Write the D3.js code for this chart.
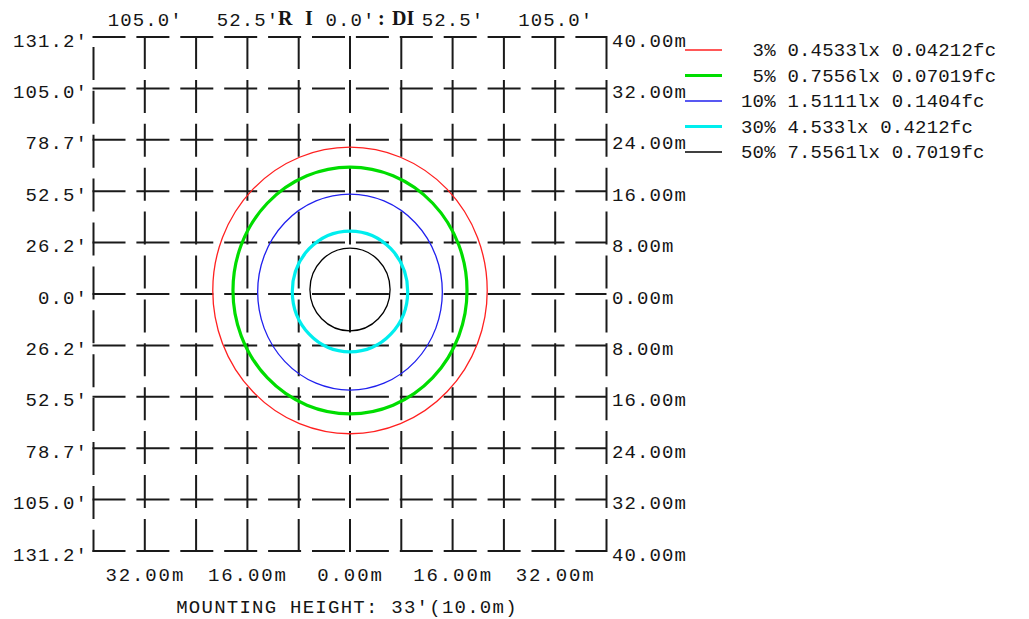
<!DOCTYPE html>
<html>
<head>
<meta charset="utf-8">
<script src="https://cdn.jsdelivr.net/npm/d3@7"></script>
<style>
  html, body { margin: 0; padding: 0; background: #fff; }
  svg { display: block; }
  text { font-family: "Liberation Mono", "Courier New", monospace; font-size: 19px; fill: #151515; white-space: pre; }
  .title { font-family: "Liberation Serif", serif; font-weight: bold; font-size: 20px; }
  .side text { letter-spacing: 1.1px; }
  .bottom text { letter-spacing: 1.9px; }
  .mount { letter-spacing: 1.25px; }
  .legend text { letter-spacing: 0.2px; }
</style>
</head>
<body>
<svg id="chart" width="1029" height="619"></svg>
<script>
// ---- data (metres) ----
const gridTicks = [-40, -32, -24, -16, -8, 0, 8, 16, 24, 32, 40];
const leftLabels = ["131.2'", "105.0'", "78.7'", "52.5'", "26.2'", "0.0'", "26.2'", "52.5'", "78.7'", "105.0'", "131.2'"];
const rightLabels = ["40.00m", "32.00m", "24.00m", "16.00m", "8.00m", "0.00m", "8.00m", "16.00m", "24.00m", "32.00m", "40.00m"];
const axisTicks = [-32, -16, 0, 16, 32];
const topLabels = ["105.0'", "52.5'", "0.0'", "52.5'", "105.0'"];
const bottomLabels = ["32.00m", "16.00m", "0.00m", "16.00m", "32.00m"];

const contourPercent = ["3%", "5%", "10%", "30%", "50%"];
const contourLux = ["0.4533lx", "0.7556lx", "1.5111lx", "4.533lx", "7.5561lx"];
const contourFc = ["0.04212fc", "0.07019fc", "0.1404fc", "0.4212fc", "0.7019fc"];
const contourRadiusX = [21.4, 18.25, 14.4, 9.0, 6.25];
const contourRadiusY = [22.3, 19.2, 15.25, 9.4, 6.45];
const contourCenterY = [0.55, 0.55, 0.3, 0.4, 0.7];

const mountingText = "MOUNTING HEIGHT: 33'(10.0m)";

// ---- styles ----
const contourColors = ["#ff2020", "#00dd00", "#2020ee", "#00eeee", "#000000"];
const contourWidths = [1.3, 3.2, 1.3, 3.2, 1.3];

const svg = d3.select("#chart");

const x = d3.scaleLinear().domain([-40, 40]).range([93.5, 606.5]);
const y = d3.scaleLinear().domain([40, -40]).range([37, 551]);

// title fragments (partly hidden behind the labels in the original)
const titleG = svg.append("g");
titleG.append("text").attr("class", "title").attr("x", 278).attr("y", 25).text("R");
titleG.append("text").attr("class", "title").attr("x", 305).attr("y", 25).text("I");
titleG.append("text").attr("class", "title").attr("x", 378).attr("y", 25).text(":");
titleG.append("text").attr("class", "title").attr("x", 392).attr("y", 25).text("DI");

// grid
const grid = svg.append("g").attr("stroke", "#1a1a1a").attr("stroke-width", 2).attr("fill", "none");
grid.selectAll("line.h").data(gridTicks).join("line")
  .attr("class", "h")
  .attr("x1", x(-40) - 1).attr("x2", x(40))
  .attr("y1", d => y(d)).attr("y2", d => y(d))
  .attr("stroke-dasharray", "33 10.9");
grid.selectAll("line.v").data(gridTicks).join("line")
  .attr("class", "v")
  .attr("x1", d => x(d)).attr("x2", d => x(d))
  .attr("y1", y(40) - 1).attr("y2", y(-40) + 1)
  .attr("stroke-dasharray", "33 10.9")
  .attr("stroke-dashoffset", (d, i) => i === 0 ? 33 : 0);

// contours
const contours = contourPercent.map((p, i) => ({ i, rx: contourRadiusX[i], ry: contourRadiusY[i], cy: contourCenterY[i] }));
svg.append("g").selectAll("ellipse").data(contours).join("ellipse")
  .attr("cx", x(0))
  .attr("cy", d => y(d.cy))
  .attr("rx", d => x(d.rx) - x(0))
  .attr("ry", d => y(0) - y(d.ry))
  .attr("fill", "none")
  .attr("stroke", d => contourColors[d.i])
  .attr("stroke-width", d => contourWidths[d.i]);

// axes
function styleAxis(g) {
  g.select(".domain").remove();
  g.selectAll(".tick line").remove();
  g.selectAll("text").attr("font-family", null).attr("font-size", null).attr("fill", null);
  g.attr("font-family", null).attr("font-size", null);
}
svg.append("g").attr("class", "side").attr("transform", "translate(88,0)")
  .call(d3.axisLeft(y).tickValues(gridTicks).tickFormat((d, i) => leftLabels[i]).tickSize(0).tickPadding(0))
  .call(styleAxis)
  .selectAll("text").attr("dy", 9);

svg.append("g").attr("class", "side").attr("transform", "translate(612,0)")
  .call(d3.axisRight(y).tickValues(gridTicks).tickFormat((d, i) => rightLabels[i]).tickSize(0).tickPadding(0))
  .call(styleAxis)
  .selectAll("text").attr("dy", 9);

const topAxis = svg.append("g").attr("class", "side").attr("transform", "translate(0,26)")
  .call(d3.axisTop(x).tickValues(axisTicks).tickFormat((d, i) => topLabels[i]).tickSize(0).tickPadding(0))
  .call(styleAxis);
topAxis.selectAll("text").attr("dy", 0);

svg.append("g").attr("class", "bottom").attr("transform", "translate(0,581)")
  .call(d3.axisBottom(x).tickValues(axisTicks).tickFormat((d, i) => bottomLabels[i]).tickSize(0).tickPadding(0))
  .call(styleAxis)
  .selectAll("text").attr("dy", 0).attr("y", 0);

svg.append("text").attr("class", "mount").attr("x", x(0) - 3).attr("y", 613).attr("text-anchor", "middle").text(mountingText);

// legend
const legendY = d3.scalePoint().domain(contourPercent).range([50, 152]);
const legend = svg.append("g").attr("class", "legend");
legend.selectAll("line").data(contours).join("line")
  .attr("x1", 685).attr("x2", 722)
  .attr("y1", d => legendY(contourPercent[d.i])).attr("y2", d => legendY(contourPercent[d.i]))
  .attr("stroke", d => contourColors[d.i])
  .attr("stroke-width", d => contourWidths[d.i] >= 3 ? 3.2 : 1.3);
legend.selectAll("text").data(contours).join("text")
  .attr("x", 741)
  .attr("y", d => legendY(contourPercent[d.i]) + 6)
  .text(d => contourPercent[d.i].padStart(3, " ") + " " + contourLux[d.i] + " " + contourFc[d.i]);
</script>
</body>
</html>
